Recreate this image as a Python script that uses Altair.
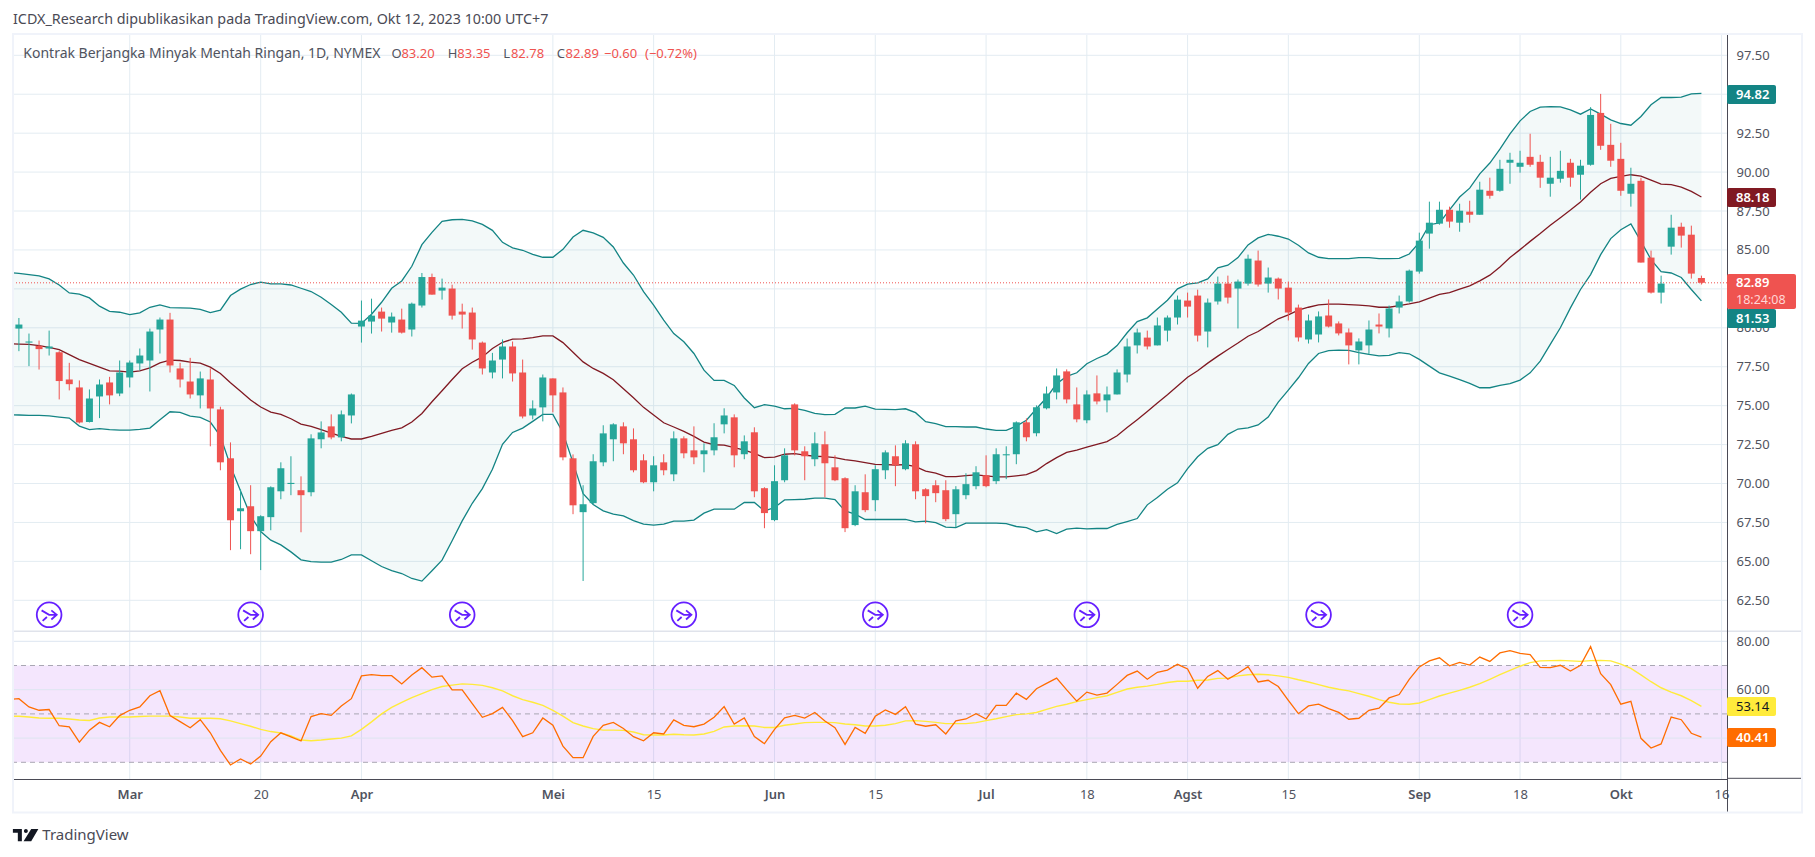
import altair as alt
import pandas as pd

FONT = "Noto Sans"
UP, DOWN = "#26a69a", "#ef5350"
GRID = "#e3ecf2"
AXIS = "#4a4a55"
TEXT = "#50535e"

directions = (
    "GGRGRRRGGR" "GGGGGRRRGR" "RRGRGGGGRG" "GRGGGGRGRG" "GRGRRRRGGR"
    "RGGRRRGGGG" "RRRGRGRRGG" "GRGRRGGRRG" "RRRGRGGRGR" "RRRGGGRGGG"
    "RGGGRRGRGG" "GGRGGGRRGG" "RGGRGRRRGG" "RRRGGRGGGG" "GGRGRGRGGG"
    "RRGGRGGRRR" "GRRGGRRR"
)
body_top = [
    80.21, 79.12, 78.84, 78.80, 78.43, 76.68, 76.17, 75.46, 76.36, 76.49,
    77.13, 77.77, 78.22, 79.76, 80.53, 80.53, 77.39, 76.55, 76.75, 76.68,
    74.76, 71.62, 68.41, 68.54, 67.90, 69.76, 70.98, 70.04, 69.57, 72.90,
    73.28, 73.67, 74.44, 75.72, 80.46, 80.78, 81.04, 80.72, 80.53, 81.55,
    83.26, 83.26, 82.58, 82.52, 81.04, 80.98, 79.05, 77.90, 78.80, 78.80,
    77.13, 74.82, 76.81, 76.75, 75.85, 71.62, 68.67, 71.43, 73.22, 73.80,
    73.67, 72.84, 71.49, 71.17, 71.36, 72.90, 72.90, 72.13, 72.13, 72.97,
    74.37, 74.25, 72.71, 73.29, 69.70, 70.15, 71.81, 75.08, 72.07, 72.58,
    72.52, 71.04, 70.34, 69.50, 69.44, 70.92, 72.00, 71.75, 72.58, 72.52,
    69.63, 69.89, 69.57, 69.63, 69.96, 70.72, 70.53, 71.88, 71.88, 73.93,
    73.93, 74.89, 75.78, 76.94, 77.20, 75.08, 75.72, 75.79, 75.72, 77.13,
    78.80, 79.70, 79.37, 80.15, 80.66, 81.81, 81.75, 82.07, 81.62, 82.84,
    82.84, 82.97, 84.44, 84.32, 83.23, 83.16, 82.58, 81.30, 80.47, 80.73,
    80.79, 80.28, 79.70, 79.12, 79.89, 80.21, 81.24, 81.69, 83.67, 85.60,
    86.75, 87.58, 87.58, 87.52, 87.46, 88.87, 88.80, 90.21, 90.79, 90.60,
    90.98, 90.66, 89.64, 90.08, 90.60, 90.41, 93.67, 93.80, 91.75, 90.85,
    89.25, 89.44, 84.51, 82.84, 86.43, 86.49, 85.98, 83.20,
]
body_bottom = [
    79.95, 79.05, 78.63, 78.67, 76.58, 76.38, 73.92, 73.95, 75.59, 75.66,
    75.78, 76.81, 77.71, 77.90, 79.89, 77.58, 76.68, 75.72, 75.66, 74.82,
    71.36, 67.64, 68.22, 66.94, 66.94, 67.84, 69.50, 69.97, 69.25, 69.44,
    72.84, 72.96, 72.96, 74.37, 80.08, 80.40, 80.59, 80.34, 79.69, 79.89,
    81.43, 82.13, 82.39, 80.78, 80.85, 79.25, 77.39, 77.13, 77.96, 77.07,
    74.31, 74.37, 74.89, 75.66, 71.68, 68.60, 68.16, 68.74, 71.36, 72.84,
    72.58, 70.85, 70.08, 70.08, 70.85, 70.59, 71.94, 71.68, 71.88, 72.13,
    73.80, 71.81, 71.88, 69.50, 68.10, 67.65, 70.21, 72.13, 71.75, 71.56,
    71.30, 70.21, 67.13, 67.33, 68.29, 68.93, 70.85, 71.17, 70.92, 69.50,
    69.19, 69.38, 67.71, 68.03, 69.25, 69.83, 69.83, 70.15, 71.81, 71.88,
    72.97, 73.22, 74.83, 75.85, 75.40, 74.12, 74.06, 75.27, 75.34, 75.72,
    77.00, 78.87, 78.80, 78.87, 79.82, 80.66, 81.36, 79.50, 79.76, 81.69,
    81.94, 82.52, 82.84, 82.78, 82.84, 82.52, 80.98, 79.38, 79.25, 79.57,
    80.08, 79.64, 78.87, 78.55, 78.87, 80.08, 79.96, 81.30, 81.69, 83.61,
    86.05, 86.69, 86.82, 86.75, 87.26, 87.26, 88.48, 88.80, 90.60, 90.34,
    90.47, 89.64, 89.25, 89.57, 89.64, 89.83, 90.47, 91.69, 90.73, 88.80,
    88.61, 84.19, 82.26, 82.26, 85.21, 85.92, 83.48, 82.89,
]
highs = [
    80.63, 79.63, 79.18, 79.82, 78.50, 77.75, 76.62, 76.04, 76.68, 76.85,
    77.90, 77.90, 78.67, 79.95, 80.66, 80.96, 77.75, 78.07, 77.19, 77.39,
    74.93, 72.64, 69.63, 69.89, 67.96, 69.82, 71.36, 71.75, 70.46, 73.16,
    73.99, 74.44, 74.69, 75.78, 81.75, 81.87, 81.30, 80.98, 81.23, 81.62,
    83.52, 83.48, 83.16, 82.77, 81.55, 81.30, 79.12, 78.39, 79.25, 79.12,
    77.96, 75.34, 77.00, 76.75, 76.17, 71.87, 69.89, 71.88, 73.74, 73.87,
    73.93, 73.54, 71.88, 71.75, 71.88, 73.35, 73.03, 73.67, 72.58, 73.87,
    74.83, 74.44, 73.09, 73.61, 69.76, 71.17, 72.26, 75.15, 72.39, 73.29,
    73.35, 71.81, 70.40, 69.89, 70.59, 71.17, 72.13, 72.45, 72.78, 72.71,
    69.70, 70.21, 70.21, 69.83, 70.66, 71.11, 71.81, 72.26, 72.39, 73.99,
    74.18, 75.02, 76.23, 77.39, 77.33, 76.17, 75.98, 76.94, 76.23, 77.33,
    79.31, 79.95, 79.82, 80.66, 80.79, 82.07, 82.26, 82.45, 81.88, 83.29,
    83.35, 83.10, 84.70, 84.96, 83.87, 83.23, 82.97, 81.49, 80.85, 81.05,
    81.82, 80.41, 79.96, 79.32, 80.47, 80.92, 81.43, 82.07, 83.74, 86.11,
    88.10, 88.10, 87.78, 87.97, 88.16, 89.38, 89.64, 90.79, 91.24, 91.37,
    92.46, 91.11, 90.98, 91.37, 90.85, 90.79, 94.17, 95.02, 93.10, 91.88,
    90.28, 89.64, 84.96, 83.35, 87.26, 86.75, 86.56, 83.35,
]
lows = [
    78.50, 77.54, 77.32, 78.22, 75.40, 75.98, 73.86, 73.92, 74.20, 75.08,
    75.61, 76.17, 77.26, 75.91, 78.35, 77.13, 76.17, 75.46, 74.82, 72.39,
    70.85, 65.72, 65.78, 65.46, 64.44, 67.00, 68.99, 69.25, 66.87, 69.18,
    72.26, 72.84, 72.71, 73.86, 79.05, 79.63, 79.76, 79.69, 79.63, 79.44,
    81.30, 82.13, 81.81, 80.53, 79.95, 78.60, 77.00, 76.75, 76.75, 76.55,
    74.18, 74.12, 73.99, 74.57, 71.49, 68.03, 63.74, 68.67, 71.11, 71.43,
    71.88, 70.72, 70.02, 69.50, 70.53, 70.15, 71.62, 71.24, 70.72, 71.81,
    73.22, 71.04, 71.56, 69.12, 67.13, 67.58, 70.08, 71.81, 70.21, 71.11,
    69.12, 70.15, 66.88, 67.26, 68.16, 68.22, 70.28, 69.83, 70.85, 68.99,
    67.45, 68.80, 67.58, 67.20, 68.99, 69.63, 69.76, 69.96, 70.28, 71.24,
    72.71, 73.03, 74.76, 75.40, 75.15, 73.93, 73.87, 75.08, 74.57, 75.72,
    76.49, 78.35, 78.61, 78.87, 79.12, 80.21, 80.66, 79.12, 78.74, 81.49,
    81.56, 79.96, 82.71, 82.65, 82.26, 81.82, 80.47, 79.12, 78.99, 79.06,
    80.02, 79.51, 77.65, 77.65, 78.29, 79.64, 79.38, 80.92, 81.62, 83.48,
    85.08, 86.62, 86.43, 86.17, 86.75, 87.26, 88.29, 88.74, 89.25, 89.96,
    90.34, 88.99, 88.42, 89.32, 89.06, 88.23, 90.41, 91.43, 90.34, 88.48,
    87.78, 84.19, 82.20, 81.56, 84.70, 85.15, 83.16, 82.78,
]
bb_upper = [
    83.55, 83.50, 83.42, 83.33, 83.14, 82.75, 82.24, 82.16, 81.92, 81.39, 81.05,
    81.00, 80.85, 80.96, 81.32, 81.47, 81.30, 81.28, 81.26, 81.19, 80.98,
    81.13, 82.07, 82.48, 82.78, 82.93, 82.82, 82.82, 82.75, 82.54, 82.33,
    81.96, 81.49, 81.00, 80.30, 80.28, 80.87, 81.64, 82.54, 83.01, 83.95,
    85.34, 86.13, 86.84, 86.94, 86.96, 86.86, 86.64, 86.26, 85.49, 85.13,
    84.98, 84.72, 84.53, 84.53, 85.04, 85.83, 86.26, 86.09, 85.81, 85.19,
    84.16, 83.39, 82.32, 81.45, 80.49, 79.63, 79.10, 78.35, 77.28, 76.62,
    76.62, 76.30, 75.49, 74.87, 75.06, 74.97, 74.80, 74.82, 74.70, 74.51,
    74.42, 74.44, 74.85, 74.85, 74.97, 74.78, 74.76, 74.74, 74.80, 74.55,
    73.97, 73.84, 73.65, 73.65, 73.63, 73.63, 73.50, 73.41, 73.41, 73.69,
    74.06, 74.80, 75.51, 76.41, 76.88, 77.11, 77.69, 78.03, 78.31, 78.86,
    79.68, 80.40, 80.64, 81.21, 81.77, 82.50, 82.80, 82.88, 83.14, 83.85,
    84.02, 84.51, 85.32, 85.77, 86.00, 85.88, 85.70, 85.30, 84.81, 84.53,
    84.44, 84.44, 84.44, 84.51, 84.51, 84.44, 84.44, 84.46, 84.74, 85.49,
    86.62, 86.73, 87.58, 88.40, 88.97, 89.89, 90.58, 91.47, 92.46, 93.29,
    93.89, 94.17, 94.21, 94.19, 93.99, 93.72, 94.06, 93.72, 93.35, 93.12,
    93.01, 93.57, 94.32, 94.79, 94.79, 94.81, 95.02, 95.06,
]
bb_middle = [
    78.97, 78.95, 78.93, 78.86, 78.75, 78.60, 78.28, 77.96, 77.71, 77.47, 77.24,
    77.22, 77.15, 77.24, 77.43, 77.75, 77.92, 77.90, 77.79, 77.73, 77.47,
    77.07, 76.47, 75.93, 75.36, 74.91, 74.59, 74.44, 74.16, 73.82, 73.67,
    73.46, 73.24, 73.03, 72.86, 72.86, 73.03, 73.22, 73.41, 73.58, 73.95,
    74.50, 75.25, 75.96, 76.68, 77.37, 77.79, 78.13, 78.67, 79.07, 79.27,
    79.29, 79.37, 79.48, 79.48, 79.05, 78.43, 77.81, 77.39, 77.07, 76.66,
    76.08, 75.51, 74.89, 74.40, 73.90, 73.63, 73.35, 73.03, 72.66, 72.49,
    72.47, 72.30, 72.15, 71.94, 71.66, 71.70, 71.88, 71.92, 71.83, 71.75,
    71.73, 71.66, 71.53, 71.45, 71.34, 71.23, 71.21, 71.19, 71.21, 71.08,
    70.79, 70.66, 70.44, 70.44, 70.51, 70.55, 70.49, 70.42, 70.42, 70.49,
    70.57, 70.83, 71.28, 71.66, 72.00, 72.15, 72.33, 72.52, 72.69, 73.07,
    73.59, 74.10, 74.63, 75.17, 75.70, 76.26, 76.83, 77.24, 77.73, 78.18,
    78.61, 79.02, 79.46, 79.76, 80.17, 80.58, 80.83, 81.13, 81.32, 81.47,
    81.52, 81.52, 81.49, 81.45, 81.41, 81.32, 81.32, 81.43, 81.54, 81.67,
    81.90, 82.14, 82.26, 82.48, 82.69, 83.01, 83.38, 83.91, 84.51, 85.02,
    85.55, 86.05, 86.58, 87.07, 87.56, 88.08, 88.70, 89.25, 89.59, 89.72,
    89.83, 89.74, 89.49, 89.23, 89.19, 89.04, 88.76, 88.40,
]
bb_lower = [
    74.42, 74.40, 74.37, 74.37, 74.35, 74.27, 74.20, 73.69, 73.46, 73.52, 73.46,
    73.43, 73.43, 73.48, 73.56, 74.10, 74.61, 74.57, 74.33, 74.25, 73.95,
    73.05, 71.13, 69.52, 67.92, 66.92, 66.36, 66.06, 65.61, 65.10, 64.99,
    64.95, 64.95, 65.12, 65.42, 65.42, 65.04, 64.67, 64.40, 64.22, 63.90,
    63.73, 64.40, 65.08, 66.32, 67.60, 68.73, 69.67, 70.91, 72.52, 73.28,
    73.56, 73.99, 74.44, 74.44, 73.26, 71.34, 69.35, 68.65, 68.24, 68.03,
    67.92, 67.62, 67.39, 67.33, 67.39, 67.58, 67.58, 67.65, 68.10, 68.35,
    68.35, 68.35, 68.78, 68.78, 68.24, 68.46, 68.95, 68.97, 68.99, 69.06,
    69.06, 68.97, 68.24, 68.03, 67.69, 67.69, 67.69, 67.69, 67.69, 67.54,
    67.58, 67.49, 67.20, 67.17, 67.45, 67.45, 67.45, 67.45, 67.43, 67.24,
    67.17, 66.90, 67.04, 66.79, 67.07, 67.13, 67.09, 67.11, 67.11, 67.37,
    67.56, 67.75, 68.63, 69.10, 69.63, 70.04, 70.96, 71.72, 72.26, 72.50,
    73.16, 73.50, 73.57, 73.76, 74.27, 75.23, 76.00, 76.79, 77.71, 78.35,
    78.54, 78.57, 78.55, 78.40, 78.29, 78.20, 78.23, 78.40, 78.33, 77.97,
    77.54, 77.11, 76.90, 76.67, 76.43, 76.15, 76.15, 76.30, 76.41, 76.64,
    77.11, 77.86, 78.93, 80.00, 81.28, 82.46, 83.42, 84.70, 85.73, 86.30,
    86.67, 85.55, 84.38, 83.61, 83.52, 83.23, 82.46, 81.73,
]
rsi = [
    56.0, 56.3, 52.9, 51.5, 51.8, 45.1, 44.6, 38.3, 43.3, 46.5, 44.7,
    49.3, 51.5, 52.9, 57.5, 59.6, 49.3, 46.8, 44.3, 47.6, 42.2,
    34.9, 28.9, 31.4, 29.3, 32.6, 38.5, 42.2, 40.5, 38.8, 48.9,
    50.1, 49.4, 53.3, 56.3, 65.7, 66.2, 65.8, 65.8, 62.4, 66.1,
    69.1, 65.2, 65.7, 59.9, 59.9, 54.2, 48.6, 50.1, 52.7, 47.2,
    40.6, 42.2, 48.3, 45.3, 36.7, 31.9, 31.9, 40.7, 45.3, 46.5,
    44.0, 40.6, 38.9, 42.2, 41.7, 47.5, 45.3, 44.7, 45.8, 48.6,
    53.0, 45.8, 48.3, 40.6, 37.7, 43.6, 48.4, 49.4, 48.3, 50.6,
    47.1, 44.3, 37.4, 44.4, 42.0, 49.0, 51.6, 49.8, 53.0, 45.8,
    44.9, 45.5, 41.7, 47.1, 47.9, 50.1, 47.9, 53.5, 53.5, 58.6,
    56.0, 60.4, 62.6, 64.8, 59.9, 55.3, 59.0, 57.8, 58.6, 62.2,
    65.9, 67.7, 64.3, 67.2, 68.1, 70.5, 68.6, 60.6, 65.5, 67.9,
    64.3, 66.8, 69.5, 63.2, 63.9, 61.3, 55.6, 50.1, 53.3, 54.0,
    52.2, 50.6, 47.8, 48.2, 51.5, 52.4, 56.6, 58.0, 64.3, 69.4,
    71.9, 73.2, 69.9, 71.3, 70.2, 73.5, 71.7, 75.2, 76.1, 75.0,
    74.5, 69.2, 69.1, 70.1, 67.7, 70.1, 77.8, 66.6, 62.1, 54.0,
    55.2, 39.9, 35.9, 37.6, 48.7, 47.6, 42.0, 40.41,
]
rsi_ma = [
    49.1, 49.0, 48.7, 48.3, 48.2, 48.2, 47.9, 47.5, 47.3, 48.3, 48.7,
    48.7, 48.7, 48.9, 49.1, 49.1, 49.1, 48.7, 48.2, 48.2, 48.2,
    48.0, 47.1, 46.0, 44.9, 43.6, 42.7, 42.1, 40.9, 39.2, 38.9,
    39.2, 39.6, 40.0, 40.9, 43.6, 46.7, 50.0, 52.7, 54.8, 56.7,
    58.4, 60.0, 61.3, 61.9, 62.4, 62.2, 61.8, 60.8, 59.5, 57.5,
    55.9, 54.8, 53.5, 51.5, 49.1, 46.4, 45.0, 43.9, 43.3, 43.3,
    43.2, 42.5, 41.4, 41.3, 41.3, 41.6, 41.4, 41.3, 41.7, 42.8,
    44.6, 45.0, 45.1, 45.0, 44.4, 44.4, 45.3, 45.8, 46.4, 46.5,
    46.5, 46.4, 45.8, 45.5, 45.0, 45.0, 45.3, 46.0, 47.1, 47.2,
    46.9, 46.5, 46.0, 46.0, 46.0, 46.4, 47.2, 48.0, 48.9, 49.7,
    50.0, 50.6, 51.9, 53.1, 54.0, 55.1, 55.9, 56.7, 57.5, 58.9,
    60.3, 61.0, 61.5, 62.2, 63.0, 63.5, 63.5, 63.9, 64.0, 64.7,
    64.8, 65.7, 66.2, 66.4, 66.2, 65.7, 65.1, 64.1, 63.2, 62.1,
    61.0, 60.2, 59.5, 58.4, 57.3, 55.9, 54.8, 54.1, 54.0, 54.5,
    55.9, 57.4, 58.6, 59.7, 61.0, 62.5, 64.3, 66.2, 68.0, 69.7,
    71.2, 71.9, 72.0, 72.1, 71.9, 71.7, 72.0, 72.1, 71.9, 70.6,
    68.8, 66.1, 63.3, 60.8, 59.0, 57.5, 55.5, 53.14,
]
time_ticks = [11, 24, 34, 53, 63, 75, 85, 96, 106, 116, 126, 139, 149, 159, 169]
time_labels = ["Mar", "20", "Apr", "Mei", "15", "Jun", "15", "Jul", "18", "Agst", "15", "Sep", "18", "Okt", "16"]
price_ticks = [62.5, 65, 67.5, 70, 72.5, 75, 77.5, 80, 82.5, 85, 87.5, 90, 92.5, 95, 97.5]
price_labels = [62.5, 65, 67.5, 70, 72.5, 75, 77.5, 80, 85, 87.5, 90, 92.5, 97.5]
rsi_grid = [80, 60, 40]
rsi_labels = [80, 60]
rsi_levels = [70, 50, 30]
icon_bars = [3, 23, 44, 66, 85, 106, 129, 149]
last_close = 82.89

W, H = 1714, 745
X0, Y0 = 13, 34

xs = alt.Scale(domain=[-0.586, 169.54], nice=False, zero=False, padding=0)
ys = alt.Scale(domain=[62.5, 97.5], range=[566.3, 21.3], nice=False, zero=False)
yr = alt.Scale(domain=[30, 80], range=[728.3, 607.3], nice=False, zero=False)

candles = pd.DataFrame({
    "i": list(range(168)), "dir": list(directions), "top": body_top,
    "bot": body_bottom, "hi": highs, "lo": lows,
})
bands = pd.DataFrame({
    "i": list(range(-1, 168)), "u": bb_upper, "m": bb_middle, "l": bb_lower,
    "rsi": rsi, "ma": rsi_ma,
})
ticks_df = pd.DataFrame({"i": time_ticks})
prices_df = pd.DataFrame({"p": price_ticks})
icons_df = pd.DataFrame({"i": icon_bars})

label_expr = "%s[indexof(%s, datum.value)]" % (time_labels, time_ticks)
month_test = "indexof([11,34,53,75,96,116,139,159], datum.value) >= 0"

X = lambda: alt.X("i:Q", scale=xs)
colour = alt.Color("dir:N", scale=alt.Scale(domain=["G", "R"], range=[UP, DOWN]), legend=None)

vgrid = alt.Chart(ticks_df).mark_rule(color=GRID, strokeWidth=1).encode(
    x=alt.X("i:Q", scale=xs, title=None, axis=alt.Axis(
        values=time_ticks, labelExpr=label_expr, grid=False, ticks=False,
        domain=True, domainColor=AXIS, domainWidth=1, labelFont=FONT, labelFontSize=13,
        labelColor=TEXT, labelPadding=9, labelOverlap=False, labelFlush=False,
        labelFontWeight={"condition": {"test": month_test, "value": 600}, "value": 400},
    ))
)
hgrid = alt.Chart(prices_df).mark_rule(color=GRID, strokeWidth=1).encode(
    y=alt.Y("p:Q", scale=ys, title=None, axis=alt.Axis(
        orient="right", values=price_labels, format=".2f", grid=False, ticks=False, domain=False,
        labelFont=FONT, labelFontSize=13, labelColor=TEXT, labelPadding=9,
        labelOverlap=False, labelFlush=False))
)
band_area = alt.Chart(bands).mark_area(color="#138484", opacity=0.05, clip=True).encode(
    x=X(), y=alt.Y("u:Q", scale=ys), y2="l:Q")
line_u = alt.Chart(bands).mark_line(color="#138484", strokeWidth=1.3, clip=True).encode(
    x=X(), y=alt.Y("u:Q", scale=ys))
line_l = alt.Chart(bands).mark_line(color="#138484", strokeWidth=1.3, clip=True).encode(
    x=X(), y=alt.Y("l:Q", scale=ys))
line_m = alt.Chart(bands).mark_line(color="#801922", strokeWidth=1.3, clip=True).encode(
    x=X(), y=alt.Y("m:Q", scale=ys))
price_line = alt.Chart(pd.DataFrame({"p": [last_close]})).mark_rule(
    color=DOWN, strokeWidth=1, strokeDash=[1, 2]).encode(y=alt.Y("p:Q", scale=ys))
wicks = alt.Chart(candles).mark_rule(strokeWidth=1).encode(
    x=X(), y=alt.Y("hi:Q", scale=ys), y2="lo:Q", color=colour)
bodies = alt.Chart(candles).mark_bar(size=7, orient="vertical").encode(
    x=X(), y=alt.Y("top:Q", scale=ys), y2="bot:Q", color=colour)

ICON = ("M-0.95,0a0.95,0.95 0 1,0 1.9,0a0.95,0.95 0 1,0 -1.9,0Z"
        "M0.17,-0.34L0.58,0L0.17,0.36M-0.58,-0.34L0,0L0.58,0M-0.5,0.47L-0.17,0.17")
icons = alt.Chart(icons_df).mark_point(
    shape=ICON, size=676, filled=False, color="#651fff", strokeWidth=1.8, opacity=1
).encode(x=X(), y=alt.value(580.8))

main = alt.layer(vgrid, hgrid, band_area, line_u, line_l, line_m, price_line, wicks, bodies, icons)

rsi_band = alt.Chart(pd.DataFrame({"a": [30], "b": [70]})).mark_rect(color="#9105eb", opacity=0.1).encode(
    x=alt.value(0), x2=alt.value(W),
    y=alt.Y("a:Q", scale=yr), y2="b:Q")
rsi_hgrid = alt.Chart(pd.DataFrame({"v": rsi_grid})).mark_rule(color="#dde5f0", strokeWidth=1).encode(
    y=alt.Y("v:Q", scale=yr, title=None, axis=alt.Axis(
        orient="right", values=rsi_labels, format=".2f", grid=False, ticks=False, domain=False,
        labelFont=FONT, labelFontSize=13, labelColor=TEXT, labelPadding=9,
        labelOverlap=False, labelFlush=False)))
rsi_lv = alt.Chart(pd.DataFrame({"v": rsi_levels})).mark_rule(
    color="#a9a7b3", strokeWidth=1, strokeDash=[5, 4]).encode(y=alt.Y("v:Q", scale=yr))
rsi_ma_line = alt.Chart(bands).mark_line(color="#ffeb3b", strokeWidth=1.4, clip=True).encode(
    x=X(), y=alt.Y("ma:Q", scale=yr))
rsi_line = alt.Chart(bands).mark_line(color="#ff6d00", strokeWidth=1.3, clip=True).encode(
    x=X(), y=alt.Y("rsi:Q", scale=yr))
lower = alt.layer(rsi_band, rsi_hgrid, rsi_lv, rsi_ma_line, rsi_line)


def rule(x1, x2, y1, y2, color, width=1):
    return alt.Chart().mark_rule(color=color, strokeWidth=width).encode(
        x=alt.value(x1 - X0), x2=alt.value(x2 - X0), y=alt.value(y1 - Y0), y2=alt.value(y2 - Y0))


def tag(x1, x2, y1, y2, color):
    return alt.Chart().mark_rect(color=color, cornerRadius=2).encode(
        x=alt.value(x1 - X0), x2=alt.value(x2 - X0), y=alt.value(y1 - Y0), y2=alt.value(y2 - Y0))


def label(txt, x, y, color, size=13, weight=400):
    return alt.Chart(pd.DataFrame({"t": [txt]})).mark_text(
        align="left", baseline="middle", font=FONT, fontSize=size, fontWeight=weight, color=color
    ).encode(x=alt.value(x - X0), y=alt.value(y - Y0), text="t:N")


deco = [
    rule(13, 1802, 631.3, 631.3, "#e0e3eb", 1.5),
    rule(1727, 1802, 778.3, 778.3, AXIS, 1),
    rule(1727.5, 1727.5, 34, 812, AXIS, 1),
    alt.Chart().mark_rect(fill=None, stroke="#f0f3fa", strokeWidth=2).encode(
        x=alt.value(0), x2=alt.value(1802 - X0), y=alt.value(0), y2=alt.value(812.5 - Y0)),
    tag(1727, 1776, 85, 104, "#138484"),
    tag(1727, 1776, 188, 207, "#801922"),
    tag(1727, 1796, 274, 309, DOWN),
    tag(1727, 1776, 309, 328, "#138484"),
    tag(1727, 1776, 697, 716, "#ffeb3b"),
    tag(1727, 1776, 728, 747, "#ff6d00"),
    label("94.82", 1736, 95, "#ffffff", weight=600),
    label("88.18", 1736, 198, "#ffffff", weight=600),
    label("82.89", 1736, 283, "#ffffff", weight=600),
    label("18:24:08", 1736, 300, "#ffd6d5", size=12.5),
    label("81.53", 1736, 319, "#ffffff", weight=600),
    label("53.14", 1736, 707, "#131722"),
    label("40.41", 1736, 738, "#ffffff", weight=600),
    label("ICDX_Research dipublikasikan pada TradingView.com, Okt 12, 2023 10:00 UTC+7", 13, 20, "#4a4a55", size=14.3),
    label("Kontrak Berjangka Minyak Mentah Ringan, 1D, NYMEX", 23.3, 54, TEXT, size=14),
]
legend_items = [("O", 391.5, TEXT), ("83.20", 401.4, DOWN), ("H", 447.8, TEXT), ("83.35", 457.3, DOWN),
                ("L", 503.2, TEXT), ("82.78", 510.9, DOWN), ("C", 556.8, TEXT), ("82.89", 565.6, DOWN),
                ("\u22120.60", 604, DOWN), ("(\u22120.72%)", 645, DOWN)]
deco += [label(t, x, 54, c) for t, x, c in legend_items]

LOGO = ("M-0.97,-0.46L-0.28,-0.46L-0.28,0.49L-0.59,0.49L-0.59,-0.18L-0.97,-0.18Z"
        "M-0.12,-0.31a0.15,0.15 0 1,0 0.3,0a0.15,0.15 0 1,0 -0.3,0Z"
        "M0.44,-0.46L0.99,-0.46L0.44,0.49L-0.15,0.49Z")
deco.append(alt.Chart().mark_point(shape=LOGO, size=676, filled=True, color="#131722", opacity=1).encode(
    x=alt.value(25.5 - X0), y=alt.value(835 - Y0)))
deco.append(label("TradingView", 42.3, 835, "#4a4a55", size=15))

chart = alt.layer(main, lower, *deco).resolve_scale(y="independent").properties(
    width=W, height=H, background="white",
    autosize=alt.AutoSizeParams(type="none"),
    padding={"left": X0 - 8, "top": Y0 - 8, "right": 80, "bottom": 70},
).configure_view(stroke=None)

chart.save("out.html", embed_options={"renderer": "svg", "actions": False})
